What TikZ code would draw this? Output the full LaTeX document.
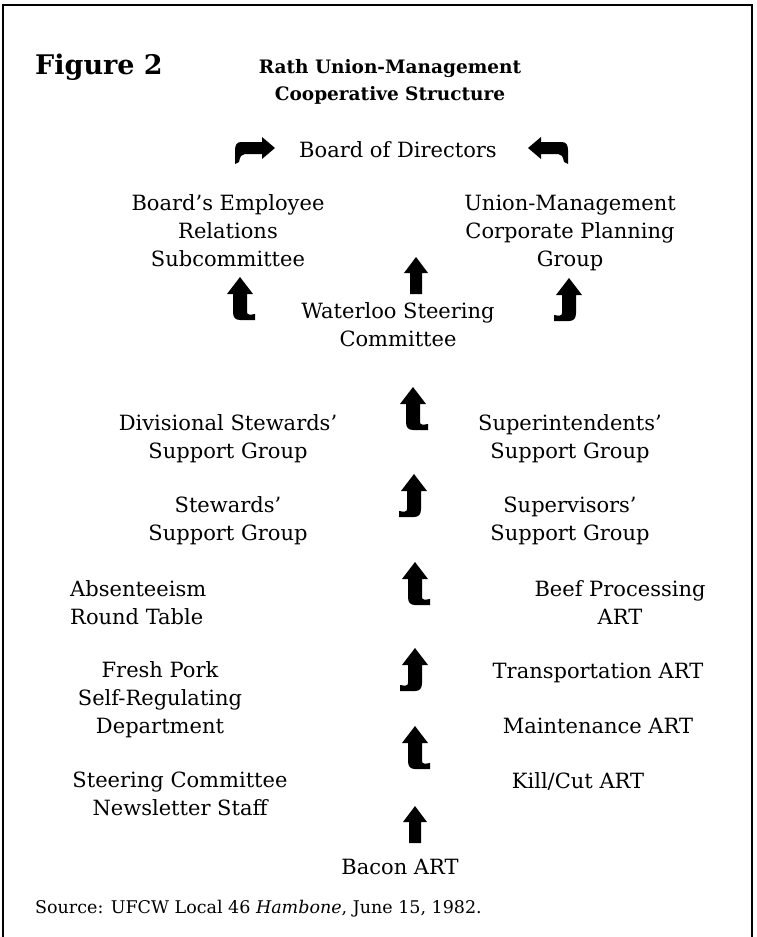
\documentclass[tikz,border=0pt]{standalone}
\usepackage{fontspec}
\setmainfont{DejaVu Serif}
\usetikzlibrary{positioning}

\begin{document}
\begin{tikzpicture}[x=1pt, y=-1pt,
                    every node/.style={align=center, inner sep=0pt,
                                       font=\fontsize{21}{28}\selectfont},
                    unit/.style={anchor=base},
                    pics/plainup/.style={code={
                      \fill (0,0) -- (12,16) -- (6,16) -- (6,37) -- (-6,37) -- (-6,16) -- (-12,16) -- cycle;}},
                    pics/hookup/.style={code={
                      \fill (0,0) -- (13,17) -- (7,17) -- (7,35) .. controls (7,38) and (10,38) .. (15,37)
                            -- (15,43) -- (0,43) .. controls (-5,43) and (-7,40) .. (-7,35) -- (-7,17) -- (-13,17) -- cycle;}},
                    pics/jup/.style={code={
                      \fill (0,0) -- (-13,17) -- (-7,17) -- (-7,35) .. controls (-7,38) and (-10,38) .. (-15,37)
                            -- (-15,43) -- (0,43) .. controls (5,43) and (7,40) .. (7,35) -- (7,17) -- (13,17) -- cycle;}},
                    pics/hookright/.style={code={
                      \fill (0,0) -- (-13,-11) -- (-13,-6) -- (-34,-6) .. controls (-38,-6) and (-40,-3) .. (-40,2)
                            -- (-40,16) -- (-36,14) .. controls (-35,8) and (-33,6) .. (-30,6) -- (-13,6) -- (-13,11) -- cycle;}},
                    pics/hookleft/.style={code={
                      \fill (0,0) -- (13,-11) -- (13,-6) -- (34,-6) .. controls (38,-6) and (40,-3) .. (40,2)
                            -- (40,16) -- (36,14) .. controls (35,8) and (33,6) .. (30,6) -- (13,6) -- (13,11) -- cycle;}}]
\useasboundingbox (0,0) rectangle (757,937);
% frame, open at the bottom
\draw[line width=2pt] (3,937) -- (3,5) -- (752,5) -- (752,937);

% headings (base = last line)
\node[anchor=base west, font=\bfseries\fontsize{27}{30}\selectfont] (fig) at (35,74) {Figure 2};
\node[anchor=base, font=\bfseries\fontsize{18.5}{27}\selectfont] (title) at (390,100) {Rath Union-Management\\Cooperative Structure};

% units
\node[unit] (board) at (398,157) {Board of Directors};
\node[unit] (berc) at (228,266) {Board's Employee\\Relations\\Subcommittee};
\node[unit] (umcp) at (570,266) {Union-Management\\Corporate Planning\\Group};
\node[unit] (wsc) at (398,346) {Waterloo Steering\\Committee};
\node[unit] (dssg) at (228,458) {Divisional Stewards'\\Support Group};
\node[unit] (sisg) at (570,458) {Superintendents'\\Support Group};
\node[unit] (stsg) at (228,540) {Stewards'\\Support Group};
\node[unit] (susg) at (570,540) {Supervisors'\\Support Group};
\node[anchor=base west, align=left] (absent) at (70,624) {Absenteeism\\Round Table};
\node[unit] (beef) at (620,624) {Beef Processing\\ART};
\node[unit] (pork) at (160,733) {Fresh Pork\\Self-Regulating\\Department};
\node[unit] (trans) at (598,678) {Transportation ART};
\node[unit] (maint) at (598,733) {Maintenance ART};
\node[unit] (news) at (180,815) {Steering Committee\\Newsletter Staff};
\node[unit] (kill) at (578,788) {Kill/Cut ART};
\node[unit] (bacon) at (400,874) {Bacon ART};
\node[anchor=base west, font=\fontsize{17.5}{20}\selectfont] (src) at (35,913)
     {Source: UFCW Local 46 \textit{Hambone}, June 15, 1982.};

% block arrows
\pic at (275,148) {hookright};
\pic at (528,148) {hookleft};
\pic at (416,257) {plainup};
\pic at (240,277) {hookup};
\pic at (569,278) {jup};
\pic at (413,387) {hookup};
\pic at (414,474) {jup};
\pic at (415,562) {hookup};
\pic at (415,648) {jup};
\pic at (415,726) {hookup};
\pic at (415,806) {plainup};
\end{tikzpicture}
\end{document}
